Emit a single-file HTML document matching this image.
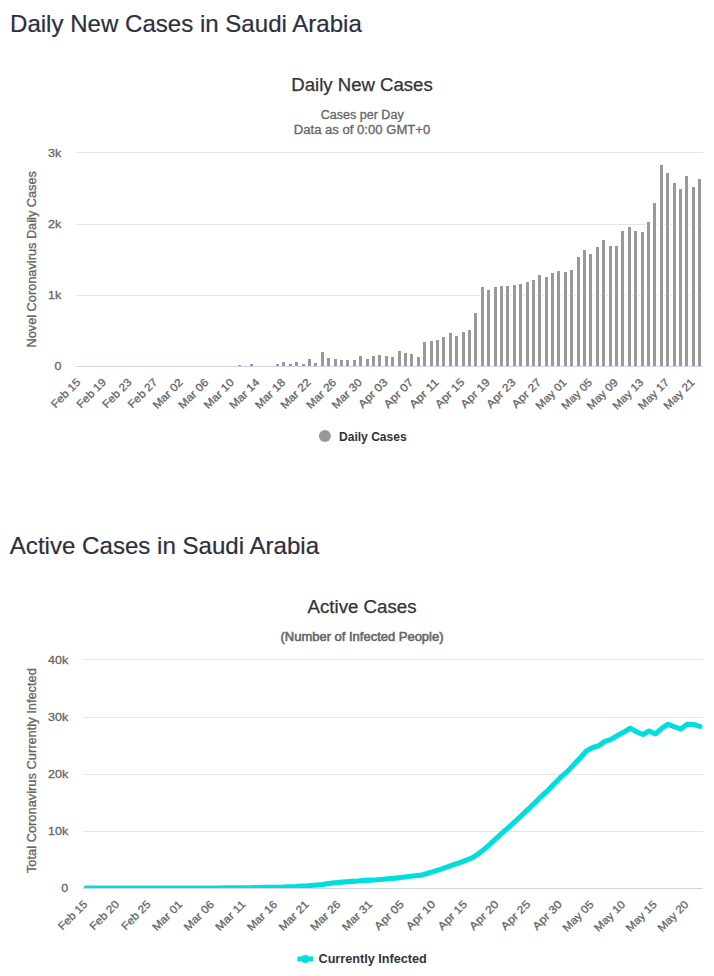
<!DOCTYPE html>
<html><head><meta charset="utf-8"><title>Saudi Arabia Coronavirus</title>
<style>
html,body{margin:0;padding:0;background:#fff;}
body{width:714px;height:976px;overflow:hidden;font-family:"Liberation Sans",sans-serif;}
svg{display:block;position:absolute;left:0;top:0;}
text{font-family:"Liberation Sans",sans-serif;}
.h{font-size:24px;fill:#2d303c;stroke:#2d303c;stroke-width:0.2px;}
.t{font-size:18px;fill:#333;stroke:#333;stroke-width:0.25px;}
.s{font-size:12px;fill:#666;stroke:#666;stroke-width:0.3px;}
.a{font-size:11px;fill:#666;stroke:#666;stroke-width:0.3px;}
.y{font-size:12px;fill:#666;stroke:#666;stroke-width:0.3px;}
.l{font-size:12px;fill:#333;font-weight:bold;}
</style></head><body>
<svg width="714" height="976" viewBox="0 0 714 976">
<rect x="0" y="0" width="714" height="976" fill="#ffffff"/>
<text class="h" x="10.0" y="31.9" text-anchor="start" textLength="351.8" lengthAdjust="spacingAndGlyphs">Daily New Cases in Saudi Arabia</text>
<text class="h" x="9.8" y="553.5" text-anchor="start" textLength="309.3" lengthAdjust="spacingAndGlyphs">Active Cases in Saudi Arabia</text>
<text class="t" x="362" y="91" text-anchor="middle" textLength="141.5" lengthAdjust="spacingAndGlyphs">Daily New Cases</text>
<text class="s" x="362.2" y="118.8" text-anchor="middle" textLength="83" lengthAdjust="spacingAndGlyphs">Cases per Day</text>
<text class="s" x="362" y="134.3" text-anchor="middle" textLength="136.5" lengthAdjust="spacingAndGlyphs">Data as of 0:00 GMT+0</text>
<text class="a" x="61.3" y="370.0" text-anchor="end" textLength="6.9" lengthAdjust="spacingAndGlyphs">0</text>
<rect x="76.0" y="295" width="627.0" height="1" fill="#e6e6e6"/>
<text class="a" x="61.3" y="299.0" text-anchor="end" textLength="13.2" lengthAdjust="spacingAndGlyphs">1k</text>
<rect x="76.0" y="224" width="627.0" height="1" fill="#e6e6e6"/>
<text class="a" x="61.3" y="228.0" text-anchor="end" textLength="13.2" lengthAdjust="spacingAndGlyphs">2k</text>
<rect x="76.0" y="152" width="627.0" height="1" fill="#e6e6e6"/>
<text class="a" x="61.3" y="156.8" text-anchor="end" textLength="13.2" lengthAdjust="spacingAndGlyphs">3k</text>
<g fill="#ffffff"><rect x="237" y="364" width="5" height="2"/><rect x="249" y="363" width="5" height="3"/><rect x="275" y="363" width="5" height="3"/><rect x="281" y="361" width="5" height="5"/><rect x="288" y="363" width="5" height="3"/><rect x="294" y="361" width="5" height="5"/><rect x="301" y="363" width="5" height="3"/><rect x="307" y="358" width="5" height="8"/><rect x="313" y="362" width="5" height="4"/><rect x="320" y="351" width="5" height="15"/><rect x="326" y="357" width="5" height="9"/><rect x="333" y="358" width="5" height="8"/><rect x="339" y="359" width="5" height="7"/><rect x="345" y="359" width="5" height="7"/><rect x="352" y="359" width="5" height="7"/><rect x="358" y="355" width="5" height="11"/><rect x="365" y="358" width="5" height="8"/><rect x="371" y="355" width="5" height="11"/><rect x="377" y="354" width="5" height="12"/><rect x="384" y="355" width="5" height="11"/><rect x="390" y="356" width="5" height="10"/><rect x="397" y="350" width="5" height="16"/><rect x="403" y="352" width="5" height="14"/><rect x="409" y="353" width="5" height="13"/><rect x="416" y="356" width="5" height="10"/><rect x="422" y="341" width="5" height="25"/><rect x="429" y="340" width="5" height="26"/><rect x="435" y="339" width="5" height="27"/><rect x="441" y="336" width="5" height="30"/><rect x="448" y="332" width="5" height="34"/><rect x="454" y="335" width="5" height="31"/><rect x="461" y="331" width="5" height="35"/><rect x="467" y="329" width="5" height="37"/><rect x="473" y="312" width="5" height="54"/><rect x="480" y="286" width="5" height="80"/><rect x="486" y="289" width="5" height="77"/><rect x="493" y="286" width="5" height="80"/><rect x="499" y="285" width="5" height="81"/><rect x="505" y="285" width="5" height="81"/><rect x="512" y="284" width="5" height="82"/><rect x="518" y="283" width="5" height="83"/><rect x="525" y="281" width="5" height="85"/><rect x="531" y="279" width="5" height="87"/><rect x="537" y="274" width="5" height="92"/><rect x="544" y="276" width="5" height="90"/><rect x="550" y="272" width="5" height="94"/><rect x="556" y="270" width="5" height="96"/><rect x="563" y="271" width="5" height="95"/><rect x="569" y="269" width="5" height="97"/><rect x="576" y="256" width="5" height="110"/><rect x="582" y="249" width="5" height="117"/><rect x="588" y="253" width="5" height="113"/><rect x="595" y="246" width="5" height="120"/><rect x="601" y="239" width="5" height="127"/><rect x="608" y="245" width="5" height="121"/><rect x="614" y="245" width="5" height="121"/><rect x="620" y="230" width="5" height="136"/><rect x="627" y="226" width="5" height="140"/><rect x="633" y="230" width="5" height="136"/><rect x="640" y="231" width="5" height="135"/><rect x="646" y="221" width="5" height="145"/><rect x="652" y="202" width="5" height="164"/><rect x="659" y="164" width="5" height="202"/><rect x="665" y="172" width="5" height="194"/><rect x="672" y="182" width="5" height="184"/><rect x="678" y="188" width="5" height="178"/><rect x="684" y="175" width="5" height="191"/><rect x="691" y="186" width="5" height="180"/><rect x="697" y="178" width="5" height="188"/></g>
<g fill="#999999"><rect x="238" y="365" width="3" height="1"/><rect x="250" y="364" width="3" height="2"/><rect x="276" y="364" width="3" height="2"/><rect x="282" y="362" width="3" height="4"/><rect x="289" y="364" width="3" height="2"/><rect x="295" y="362" width="3" height="4"/><rect x="302" y="364" width="3" height="2"/><rect x="308" y="359" width="3" height="7"/><rect x="314" y="363" width="3" height="3"/><rect x="321" y="352" width="3" height="14"/><rect x="327" y="358" width="3" height="8"/><rect x="334" y="359" width="3" height="7"/><rect x="340" y="360" width="3" height="6"/><rect x="346" y="360" width="3" height="6"/><rect x="353" y="360" width="3" height="6"/><rect x="359" y="356" width="3" height="10"/><rect x="366" y="359" width="3" height="7"/><rect x="372" y="356" width="3" height="10"/><rect x="378" y="355" width="3" height="11"/><rect x="385" y="356" width="3" height="10"/><rect x="391" y="357" width="3" height="9"/><rect x="398" y="351" width="3" height="15"/><rect x="404" y="353" width="3" height="13"/><rect x="410" y="354" width="3" height="12"/><rect x="417" y="357" width="3" height="9"/><rect x="423" y="342" width="3" height="24"/><rect x="430" y="341" width="3" height="25"/><rect x="436" y="340" width="3" height="26"/><rect x="442" y="337" width="3" height="29"/><rect x="449" y="333" width="3" height="33"/><rect x="455" y="336" width="3" height="30"/><rect x="462" y="332" width="3" height="34"/><rect x="468" y="330" width="3" height="36"/><rect x="474" y="313" width="3" height="53"/><rect x="481" y="287" width="3" height="79"/><rect x="487" y="290" width="3" height="76"/><rect x="494" y="287" width="3" height="79"/><rect x="500" y="286" width="3" height="80"/><rect x="506" y="286" width="3" height="80"/><rect x="513" y="285" width="3" height="81"/><rect x="519" y="284" width="3" height="82"/><rect x="526" y="282" width="3" height="84"/><rect x="532" y="280" width="3" height="86"/><rect x="538" y="275" width="3" height="91"/><rect x="545" y="277" width="3" height="89"/><rect x="551" y="273" width="3" height="93"/><rect x="557" y="271" width="3" height="95"/><rect x="564" y="272" width="3" height="94"/><rect x="570" y="270" width="3" height="96"/><rect x="577" y="257" width="3" height="109"/><rect x="583" y="250" width="3" height="116"/><rect x="589" y="254" width="3" height="112"/><rect x="596" y="247" width="3" height="119"/><rect x="602" y="240" width="3" height="126"/><rect x="609" y="246" width="3" height="120"/><rect x="615" y="246" width="3" height="120"/><rect x="621" y="231" width="3" height="135"/><rect x="628" y="227" width="3" height="139"/><rect x="634" y="231" width="3" height="135"/><rect x="641" y="232" width="3" height="134"/><rect x="647" y="222" width="3" height="144"/><rect x="653" y="203" width="3" height="163"/><rect x="660" y="165" width="3" height="201"/><rect x="666" y="173" width="3" height="193"/><rect x="673" y="183" width="3" height="183"/><rect x="679" y="189" width="3" height="177"/><rect x="685" y="176" width="3" height="190"/><rect x="692" y="187" width="3" height="179"/><rect x="698" y="179" width="3" height="187"/></g>
<rect x="76.0" y="366" width="627.0" height="1" fill="#ccd6eb"/>
<text class="a" x="81.2" y="383.0" text-anchor="end" textLength="36.4" lengthAdjust="spacingAndGlyphs" transform="rotate(-45 81.2 383.0)">Feb 15</text>
<text class="a" x="106.8" y="383.0" text-anchor="end" textLength="36.4" lengthAdjust="spacingAndGlyphs" transform="rotate(-45 106.8 383.0)">Feb 19</text>
<text class="a" x="132.4" y="383.0" text-anchor="end" textLength="36.4" lengthAdjust="spacingAndGlyphs" transform="rotate(-45 132.4 383.0)">Feb 23</text>
<text class="a" x="158.0" y="383.0" text-anchor="end" textLength="36.4" lengthAdjust="spacingAndGlyphs" transform="rotate(-45 158.0 383.0)">Feb 27</text>
<text class="a" x="183.6" y="383.0" text-anchor="end" textLength="37.4" lengthAdjust="spacingAndGlyphs" transform="rotate(-45 183.6 383.0)">Mar 02</text>
<text class="a" x="209.2" y="383.0" text-anchor="end" textLength="37.4" lengthAdjust="spacingAndGlyphs" transform="rotate(-45 209.2 383.0)">Mar 06</text>
<text class="a" x="234.8" y="383.0" text-anchor="end" textLength="37.4" lengthAdjust="spacingAndGlyphs" transform="rotate(-45 234.8 383.0)">Mar 10</text>
<text class="a" x="260.3" y="383.0" text-anchor="end" textLength="37.4" lengthAdjust="spacingAndGlyphs" transform="rotate(-45 260.3 383.0)">Mar 14</text>
<text class="a" x="285.9" y="383.0" text-anchor="end" textLength="37.4" lengthAdjust="spacingAndGlyphs" transform="rotate(-45 285.9 383.0)">Mar 18</text>
<text class="a" x="311.5" y="383.0" text-anchor="end" textLength="37.4" lengthAdjust="spacingAndGlyphs" transform="rotate(-45 311.5 383.0)">Mar 22</text>
<text class="a" x="337.1" y="383.0" text-anchor="end" textLength="37.4" lengthAdjust="spacingAndGlyphs" transform="rotate(-45 337.1 383.0)">Mar 26</text>
<text class="a" x="362.7" y="383.0" text-anchor="end" textLength="37.4" lengthAdjust="spacingAndGlyphs" transform="rotate(-45 362.7 383.0)">Mar 30</text>
<text class="a" x="388.3" y="383.0" text-anchor="end" textLength="36.3" lengthAdjust="spacingAndGlyphs" transform="rotate(-45 388.3 383.0)">Apr 03</text>
<text class="a" x="413.9" y="383.0" text-anchor="end" textLength="36.3" lengthAdjust="spacingAndGlyphs" transform="rotate(-45 413.9 383.0)">Apr 07</text>
<text class="a" x="439.5" y="383.0" text-anchor="end" textLength="36.3" lengthAdjust="spacingAndGlyphs" transform="rotate(-45 439.5 383.0)">Apr 11</text>
<text class="a" x="465.1" y="383.0" text-anchor="end" textLength="36.3" lengthAdjust="spacingAndGlyphs" transform="rotate(-45 465.1 383.0)">Apr 15</text>
<text class="a" x="490.7" y="383.0" text-anchor="end" textLength="36.3" lengthAdjust="spacingAndGlyphs" transform="rotate(-45 490.7 383.0)">Apr 19</text>
<text class="a" x="516.3" y="383.0" text-anchor="end" textLength="36.3" lengthAdjust="spacingAndGlyphs" transform="rotate(-45 516.3 383.0)">Apr 23</text>
<text class="a" x="541.9" y="383.0" text-anchor="end" textLength="36.3" lengthAdjust="spacingAndGlyphs" transform="rotate(-45 541.9 383.0)">Apr 27</text>
<text class="a" x="567.4" y="383.0" text-anchor="end" textLength="38.6" lengthAdjust="spacingAndGlyphs" transform="rotate(-45 567.4 383.0)">May 01</text>
<text class="a" x="593.0" y="383.0" text-anchor="end" textLength="38.6" lengthAdjust="spacingAndGlyphs" transform="rotate(-45 593.0 383.0)">May 05</text>
<text class="a" x="618.6" y="383.0" text-anchor="end" textLength="38.6" lengthAdjust="spacingAndGlyphs" transform="rotate(-45 618.6 383.0)">May 09</text>
<text class="a" x="644.2" y="383.0" text-anchor="end" textLength="38.6" lengthAdjust="spacingAndGlyphs" transform="rotate(-45 644.2 383.0)">May 13</text>
<text class="a" x="669.8" y="383.0" text-anchor="end" textLength="38.6" lengthAdjust="spacingAndGlyphs" transform="rotate(-45 669.8 383.0)">May 17</text>
<text class="a" x="695.4" y="383.0" text-anchor="end" textLength="38.6" lengthAdjust="spacingAndGlyphs" transform="rotate(-45 695.4 383.0)">May 21</text>
<text class="y" x="35.9" y="259.3" text-anchor="middle" textLength="176.5" lengthAdjust="spacingAndGlyphs" transform="rotate(-90 35.9 259.3)">Novel Coronavirus Daily Cases</text>
<circle cx="324.9" cy="436" r="6" fill="#999999"/>
<text class="l" x="339" y="440.5" text-anchor="start" textLength="67.7" lengthAdjust="spacingAndGlyphs">Daily Cases</text>
<text class="t" x="362" y="612.5" text-anchor="middle" textLength="109" lengthAdjust="spacingAndGlyphs">Active Cases</text>
<text class="s" x="362" y="640.5" text-anchor="middle" textLength="163" lengthAdjust="spacingAndGlyphs" style="stroke-width:0.55px">(Number of Infected People)</text>
<text class="a" x="68.2" y="891.8" text-anchor="end" textLength="6.9" lengthAdjust="spacingAndGlyphs">0</text>
<rect x="83.0" y="831" width="620.0" height="1" fill="#e6e6e6"/>
<text class="a" x="68.2" y="834.8" text-anchor="end" textLength="20.2" lengthAdjust="spacingAndGlyphs">10k</text>
<rect x="83.0" y="774" width="620.0" height="1" fill="#e6e6e6"/>
<text class="a" x="68.2" y="777.8" text-anchor="end" textLength="20.2" lengthAdjust="spacingAndGlyphs">20k</text>
<rect x="83.0" y="717" width="620.0" height="1" fill="#e6e6e6"/>
<text class="a" x="68.2" y="720.8" text-anchor="end" textLength="20.2" lengthAdjust="spacingAndGlyphs">30k</text>
<rect x="83.0" y="659" width="620.0" height="1" fill="#e6e6e6"/>
<text class="a" x="68.2" y="663.5999999999999" text-anchor="end" textLength="20.2" lengthAdjust="spacingAndGlyphs">40k</text>
<rect x="83.0" y="888" width="620.0" height="1" fill="#ccd6eb"/>
<clipPath id="c2"><rect x="80.0" y="654.5" width="626.0" height="233.5"/></clipPath>
<polyline clip-path="url(#c2)" fill="none" stroke="#00dddd" stroke-width="5.1" stroke-linejoin="round" stroke-linecap="round" points="86.2,888.0 92.5,888.0 98.8,888.0 105.1,888.0 111.5,888.0 117.8,888.0 124.1,888.0 130.4,888.0 136.8,888.0 143.1,888.0 149.4,888.0 155.8,888.0 162.1,888.0 168.4,888.0 174.7,888.0 181.1,888.0 187.4,888.0 193.7,888.0 200.0,888.0 206.4,888.0 212.7,888.0 219.0,888.0 225.3,887.9 231.7,887.9 238.0,887.9 244.3,887.9 250.7,887.7 257.0,887.5 263.3,887.4 269.6,887.3 276.0,887.3 282.3,887.1 288.6,886.7 294.9,886.5 301.3,886.1 307.6,885.9 313.9,885.2 320.2,884.9 326.6,883.8 332.9,883.0 339.2,882.4 345.6,881.9 351.9,881.4 358.2,881.0 364.5,880.4 370.9,880.1 377.2,879.8 383.5,879.2 389.8,878.5 396.2,878.1 402.5,877.3 408.8,876.5 415.1,875.8 421.5,875.1 427.8,873.3 434.1,871.4 440.4,869.4 446.8,867.2 453.1,864.8 459.4,862.9 465.8,860.3 472.1,857.8 478.4,853.8 484.7,848.9 491.1,843.2 497.4,837.3 503.7,831.7 510.0,826.2 516.4,820.3 522.7,814.3 529.0,808.5 535.3,802.4 541.7,796.0 548.0,790.3 554.3,783.7 560.7,777.3 567.0,771.9 573.3,765.3 579.6,758.6 586.0,751.3 592.3,747.7 598.6,745.8 604.9,741.4 611.3,739.3 617.6,735.5 623.9,732.1 630.2,728.3 636.6,731.8 642.9,734.5 649.2,731.1 655.6,734.0 661.9,728.1 668.2,724.3 674.5,726.8 680.9,729.0 687.2,724.3 693.5,724.5 699.8,726.4"/>
<text class="a" x="88.2" y="905.0" text-anchor="end" textLength="36.4" lengthAdjust="spacingAndGlyphs" transform="rotate(-45 88.2 905.0)">Feb 15</text>
<text class="a" x="119.8" y="905.0" text-anchor="end" textLength="36.4" lengthAdjust="spacingAndGlyphs" transform="rotate(-45 119.8 905.0)">Feb 20</text>
<text class="a" x="151.4" y="905.0" text-anchor="end" textLength="36.4" lengthAdjust="spacingAndGlyphs" transform="rotate(-45 151.4 905.0)">Feb 25</text>
<text class="a" x="183.1" y="905.0" text-anchor="end" textLength="37.4" lengthAdjust="spacingAndGlyphs" transform="rotate(-45 183.1 905.0)">Mar 01</text>
<text class="a" x="214.7" y="905.0" text-anchor="end" textLength="37.4" lengthAdjust="spacingAndGlyphs" transform="rotate(-45 214.7 905.0)">Mar 06</text>
<text class="a" x="246.3" y="905.0" text-anchor="end" textLength="37.4" lengthAdjust="spacingAndGlyphs" transform="rotate(-45 246.3 905.0)">Mar 11</text>
<text class="a" x="278.0" y="905.0" text-anchor="end" textLength="37.4" lengthAdjust="spacingAndGlyphs" transform="rotate(-45 278.0 905.0)">Mar 16</text>
<text class="a" x="309.6" y="905.0" text-anchor="end" textLength="37.4" lengthAdjust="spacingAndGlyphs" transform="rotate(-45 309.6 905.0)">Mar 21</text>
<text class="a" x="341.2" y="905.0" text-anchor="end" textLength="37.4" lengthAdjust="spacingAndGlyphs" transform="rotate(-45 341.2 905.0)">Mar 26</text>
<text class="a" x="372.9" y="905.0" text-anchor="end" textLength="37.4" lengthAdjust="spacingAndGlyphs" transform="rotate(-45 372.9 905.0)">Mar 31</text>
<text class="a" x="404.5" y="905.0" text-anchor="end" textLength="36.3" lengthAdjust="spacingAndGlyphs" transform="rotate(-45 404.5 905.0)">Apr 05</text>
<text class="a" x="436.1" y="905.0" text-anchor="end" textLength="36.3" lengthAdjust="spacingAndGlyphs" transform="rotate(-45 436.1 905.0)">Apr 10</text>
<text class="a" x="467.8" y="905.0" text-anchor="end" textLength="36.3" lengthAdjust="spacingAndGlyphs" transform="rotate(-45 467.8 905.0)">Apr 15</text>
<text class="a" x="499.4" y="905.0" text-anchor="end" textLength="36.3" lengthAdjust="spacingAndGlyphs" transform="rotate(-45 499.4 905.0)">Apr 20</text>
<text class="a" x="531.0" y="905.0" text-anchor="end" textLength="36.3" lengthAdjust="spacingAndGlyphs" transform="rotate(-45 531.0 905.0)">Apr 25</text>
<text class="a" x="562.7" y="905.0" text-anchor="end" textLength="36.3" lengthAdjust="spacingAndGlyphs" transform="rotate(-45 562.7 905.0)">Apr 30</text>
<text class="a" x="594.3" y="905.0" text-anchor="end" textLength="38.6" lengthAdjust="spacingAndGlyphs" transform="rotate(-45 594.3 905.0)">May 05</text>
<text class="a" x="625.9" y="905.0" text-anchor="end" textLength="38.6" lengthAdjust="spacingAndGlyphs" transform="rotate(-45 625.9 905.0)">May 10</text>
<text class="a" x="657.6" y="905.0" text-anchor="end" textLength="38.6" lengthAdjust="spacingAndGlyphs" transform="rotate(-45 657.6 905.0)">May 15</text>
<text class="a" x="689.2" y="905.0" text-anchor="end" textLength="38.6" lengthAdjust="spacingAndGlyphs" transform="rotate(-45 689.2 905.0)">May 20</text>
<text class="y" x="36.3" y="770.6" text-anchor="middle" textLength="205" lengthAdjust="spacingAndGlyphs" transform="rotate(-90 36.3 770.6)">Total Coronavirus Currently Infected</text>
<path d="M297.5 959H313" stroke="#00dddd" stroke-width="5" fill="none"/><circle cx="305.3" cy="959" r="4" fill="#00dddd"/>
<text class="l" x="318.5" y="962.9" text-anchor="start" textLength="108.3" lengthAdjust="spacingAndGlyphs">Currently Infected</text>
</svg>
</body></html>
